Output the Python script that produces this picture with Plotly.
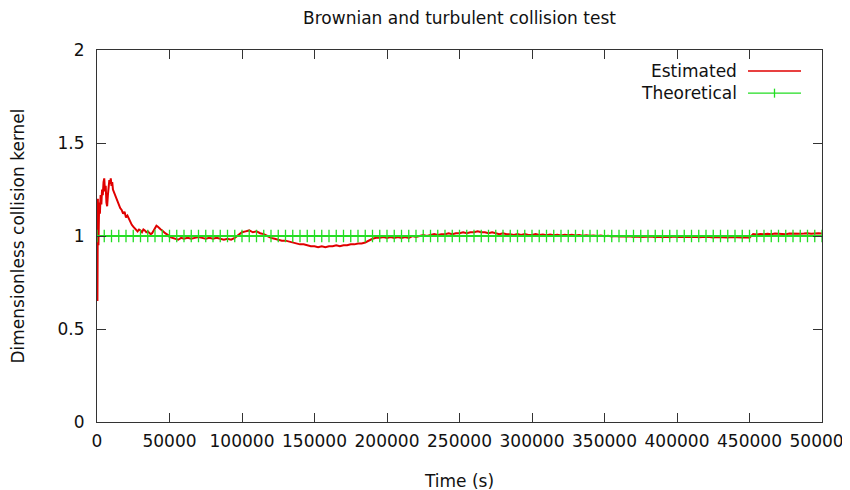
import plotly.graph_objects as go

# ---- data ----
t_early = [0, 300, 600, 1000, 1500, 2000, 2500, 3000, 3500, 4000, 4500, 5000, 5500, 6000,
           6500, 7000, 7500, 8000, 8500, 9000, 9500, 10000, 10500, 11000, 12000, 13000,
           14000, 15000, 16000, 17000, 18000, 19000, 20000, 21000, 22000, 23000, 24000,
           25000, 26000, 27000, 28000, 29000, 30000, 31000, 32000, 33000, 34000, 35000,
           36000, 37000, 38000, 39000, 40000, 41000, 42000, 43000, 44000, 45000, 46000,
           47000, 48000, 49000, 50000, 52000, 54000, 56000, 58000, 60000]
k_early = [1.00, 0.65, 1.20, 0.95, 1.18, 1.12, 1.22, 1.17, 1.25, 1.22, 1.29, 1.31, 1.24, 1.27,
           1.18, 1.16, 1.22, 1.25, 1.30, 1.28, 1.31, 1.27, 1.29, 1.25, 1.23, 1.20,
           1.18, 1.17, 1.15, 1.14, 1.12, 1.13, 1.10, 1.11, 1.09, 1.08, 1.06,
           1.05, 1.04, 1.03, 1.025, 1.035, 1.03, 1.02, 1.035, 1.03, 1.02, 1.025,
           1.015, 1.01, 1.015, 1.03, 1.045, 1.055, 1.05, 1.04, 1.035, 1.03, 1.02,
           1.015, 1.01, 1.005, 0.995, 0.99, 0.985, 0.98, 0.99, 0.985]

# later samples every 2500 s from 62500 to 500000
t_late = list(range(62500, 500001, 2500))
k_late = [
    0.990, 0.985, 0.990, 0.995, 0.990, 0.985, 0.990, 0.985, 0.990, 0.985,  # 62500-85000
    0.980, 0.985, 0.980, 0.990, 1.005, 1.020, 1.025, 1.030, 1.020, 1.025,  # 87500-110000
    1.015, 1.010, 1.000, 0.990, 0.985, 0.980, 0.975, 0.975, 0.970, 0.965,  # 112500-135000
    0.960, 0.955, 0.955, 0.950, 0.945, 0.945, 0.940, 0.945, 0.940, 0.945,  # 137500-160000
    0.945, 0.950, 0.945, 0.950, 0.950, 0.955, 0.955, 0.960, 0.960, 0.965,  # 162500-185000
    0.975, 0.985, 0.990, 0.990, 0.995, 0.990, 0.995, 0.990, 0.995, 0.990,  # 187500-210000
    0.995, 0.990, 1.000, 0.995, 1.000, 1.005, 1.000, 1.005, 1.010, 1.005,  # 212500-235000
    1.010, 1.010, 1.015, 1.010, 1.015, 1.015, 1.020, 1.015, 1.020, 1.020,  # 237500-260000
    1.025, 1.020, 1.020, 1.015, 1.020, 1.015, 1.010, 1.015, 1.010, 1.010,  # 262500-285000
    1.005, 1.010, 1.005, 1.010, 1.005, 1.005, 1.010, 1.005, 1.008, 1.004,  # 287500-310000
    1.008, 1.004, 1.006, 1.003, 1.007, 1.004, 1.006, 1.003, 1.005, 1.002,  # 312500-335000
    1.004, 1.001, 1.003, 1.000, 1.002, 0.999, 1.001, 0.998, 1.000, 0.997,  # 337500-360000
    0.999, 0.996, 0.998, 0.995, 0.997, 0.994, 0.996, 0.995, 0.997, 0.994,  # 362500-385000
    0.996, 0.993, 0.996, 0.994, 0.997, 0.995, 0.996, 0.993, 0.995, 0.994,  # 387500-410000
    0.996, 0.993, 0.995, 0.996, 0.994, 0.992, 0.995, 0.993, 0.994, 0.992,  # 412500-435000
    0.995, 0.993, 0.994, 0.992, 0.993, 0.991, 1.010, 1.008, 1.011, 1.009,  # 437500-460000
    1.012, 1.010, 1.013, 1.011, 1.012, 1.010, 1.013, 1.012, 1.014, 1.012,  # 462500-485000
    1.013, 1.015, 1.012, 1.014, 1.015, 1.013, 1.014,                       # 487500-500000
]

time_est = t_early + t_late
kernel_est = k_early + k_late

time_theo = list(range(0, 500001, 5000))
kernel_theo = [1.0] * len(time_theo)

x_ticks = list(range(0, 500001, 50000))
y_ticks = [0, 0.5, 1, 1.5, 2]
y_tick_text = ["0", "0.5", "1", "1.5", "2"]

RED = "#e00000"
GREEN = "#22dd22"
FONT = "DejaVu Sans, sans-serif"
FS = 17
TXT = "#111111"

fig = go.Figure()
fig.add_trace(go.Scatter(x=time_est, y=kernel_est, mode="lines", name="Estimated",
                         line=dict(color=RED, width=2), showlegend=False))
fig.add_trace(go.Scatter(x=time_theo, y=kernel_theo, mode="lines+markers", name="Theoretical",
                         line=dict(color=GREEN, width=1.3),
                         marker=dict(symbol="cross-thin", size=9,
                                     line=dict(color=GREEN, width=1.3)),
                         showlegend=False))

axis_common = dict(showline=True, linecolor="#333333", linewidth=1, mirror="allticks",
                   ticks="inside", ticklen=9, tickcolor="#333333", showgrid=False,
                   zeroline=False, automargin=False,
                   tickfont=dict(family=FONT, size=FS, color=TXT))

fig.update_xaxes(range=[0, 500000], tickvals=x_ticks, ticktext=[str(v) for v in x_ticks],
                 ticklabelstandoff=4,
                 title=dict(text="Time (s)", font=dict(family=FONT, size=FS, color=TXT),
                            standoff=24),
                 **axis_common)
fig.update_yaxes(range=[0, 2], tickvals=y_ticks, ticktext=y_tick_text,
                 ticklabelstandoff=8,
                 title=dict(text="Dimensionless collision kernel",
                            font=dict(family=FONT, size=FS, color=TXT), standoff=29),
                 **axis_common)

# gnuplot-style legend: text on the left, sample on the right
legend_items = [("Estimated", RED, False, 0.9435), ("Theoretical", GREEN, True, 0.884)]
shapes = []
annotations = []
x0_s, x1_s = 748, 801
W, H = 850, 490
for label, col, mark, yp in legend_items:
    annotations.append(dict(xref="paper", yref="paper", x=(739 - 97) / 725, y=yp,
                            text=label, showarrow=False, xanchor="right", yanchor="middle",
                            font=dict(family=FONT, size=FS, color=TXT)))
    shapes.append(dict(type="line", xref="paper", yref="paper",
                       x0=(x0_s - 97) / 725, x1=(x1_s - 97) / 725, y0=yp, y1=yp,
                       line=dict(color=col, width=1.3)))
    if mark:
        xm = ((x0_s + x1_s) / 2 - 97) / 725
        shapes.append(dict(type="line", xref="paper", yref="paper",
                           x0=xm, x1=xm, y0=yp - 4.5 / 372, y1=yp + 4.5 / 372,
                           line=dict(color=col, width=1.3)))

# the page adds an 8 px body margin, so the figure is offset by (8, 8)
fig.update_layout(
    width=W, height=H,
    margin=dict(l=89, r=36, t=42, b=76),
    paper_bgcolor="white", plot_bgcolor="white",
    title=dict(text="Brownian and turbulent collision test", x=451.5 / W, xanchor="center",
               y=1 - 10 / H, yanchor="middle",
               font=dict(family=FONT, size=FS, color=TXT)),
    shapes=shapes, annotations=annotations,
)

fig.write_html("out.html")
